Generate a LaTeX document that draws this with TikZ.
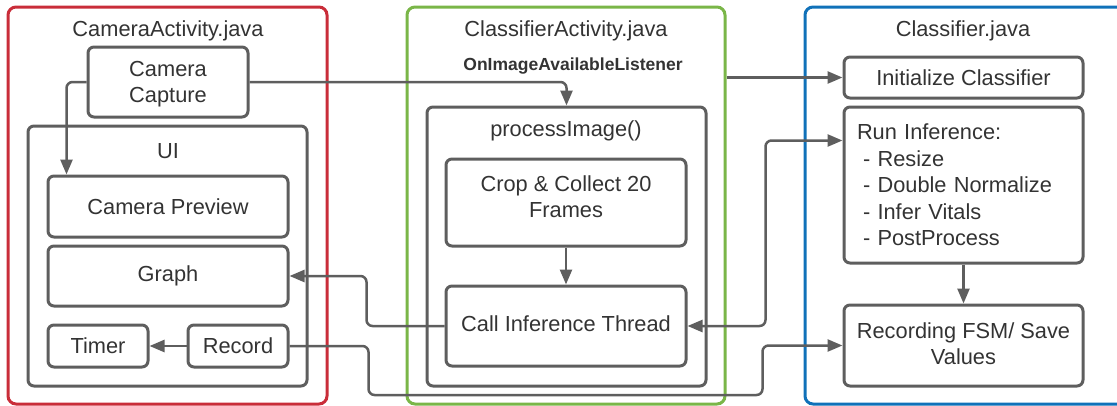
\documentclass[tikz,border=0pt]{standalone}
\usepackage{fontspec}
\setmainfont{Liberation Sans}
\usetikzlibrary{arrows.meta,calc}
\definecolor{lineg}{HTML}{5E5E5E}
\definecolor{txtg}{HTML}{333333}
\definecolor{cred}{HTML}{C92D39}
\definecolor{cgreen}{HTML}{7AB648}
\definecolor{cblue}{HTML}{1071B9}
\begin{document}
\begin{tikzpicture}[x=1pt,y=-1pt,
  font=\fontsize{21.8}{26.5}\selectfont,
  every node/.style={text=txtg},
  container/.style={draw=#1,line width=3pt,rounded corners=8pt,inner sep=0pt},
  box/.style={draw=lineg,line width=3pt,rounded corners=6pt,inner sep=0pt,align=center},
  lbl/.style={inner sep=0pt},
  conn/.style={draw=lineg,line width=2.5pt,rounded corners=6pt,-{Triangle[length=15pt,width=12pt]}},
  biconn/.style={draw=lineg,line width=2.5pt,rounded corners=6pt,{Triangle[length=15pt,width=12pt]}-{Triangle[length=15pt,width=12pt]}}
]
\useasboundingbox (0,0) rectangle (1117,405);
\begin{scope}
\clip (0,0) rectangle (1117,405);
% containers
\node[container=cred,minimum width=319pt,minimum height=397pt] (camact) at (167.5,205.5) {};
\node[container=cgreen,minimum width=318pt,minimum height=397pt] (clsact) at (566,205.5) {};
\node[container=cblue,minimum width=325pt,minimum height=397pt] (cls) at (967.5,205.5) {};
\end{scope}
\node[lbl] (t1) at (168,31) {CameraActivity.java};
\node[lbl] (t2) at (566,31) {ClassifierActivity.java};
\node[lbl] (t3) at (963,31) {Classifier.java};
\node[lbl,font=\fontsize{17.5}{20}\selectfont\bfseries] (listener) at (573,66) {OnImageAvailableListener};

% CameraActivity
\node[box,minimum width=160pt,minimum height=70pt,label={[lbl,align=center,yshift=-2pt]center:Camera\\Capture}] (cc) at (168,82) {};
\node[box,minimum width=279pt,minimum height=260pt] (ui) at (167.5,256) {};
\node[lbl] (uil) at (168,151) {UI};
\node[box,minimum width=240pt,minimum height=61pt] (cp) at (168,206.5) {Camera Preview};
\node[box,minimum width=240pt,minimum height=60pt] (graph) at (168,276) {Graph};
\node[box,minimum width=100pt,minimum height=42pt] (timer) at (98,346) {Timer};
\node[box,minimum width=100pt,minimum height=42pt] (record) at (238,346) {Record};

% ClassifierActivity
\node[box,minimum width=279pt,minimum height=279pt] (pi) at (566.5,246.5) {};
\node[lbl] (pil) at (566,131) {processImage()};
\node[box,minimum width=240pt,minimum height=87pt,label={[lbl,align=center,yshift=6pt]center:Crop \& Collect 20\\Frames}] (crop) at (566,202.5) {};
\node[box,minimum width=240pt,minimum height=80pt,label={[lbl,yshift=2pt]center:Call Inference Thread}] (call) at (566,326) {};

% Classifier
\node[box,minimum width=239pt,minimum height=41pt] (init) at (963.5,77.5) {Initialize Classifier};
\node[box,minimum width=239pt,minimum height=156pt,align=left,text width=213pt] (run) at (963.5,185)
  {Run Inference:\\\hspace*{6pt}- Resize\\\hspace*{6pt}- Double Normalize\\\hspace*{6pt}- Infer Vitals\\\hspace*{6pt}- PostProcess};
\node[box,minimum width=239pt,minimum height=81pt,label={[lbl,align=center,yshift=2pt]center:Recording FSM/ Save\\Values}] (rec) at (963.5,345.5) {};

% connectors
\draw[conn] (cc.west) -| ($(cp.north west)+(20,0)$);
\draw[conn] (cc.east) -| (pi.north);
\draw[conn] (crop.south) -- (call.north);
\draw[conn] (call.west) -- ++(-78,0) |- (graph.east);
\draw[biconn] (call.east) -- ++(78,0) |- ($(run.north west)+(0,35)$);
\draw[conn] (clsact.east |- init.west) -- (init.west);
\draw[conn] (record.east) -- ++(79,0) -- ++(0,49) -| ($(rec.west)+(-80,0)$) -- (rec.west);
\draw[conn] (record.west) -- (timer.east);
\draw[conn] (run.south) -- (rec.north);
\end{tikzpicture}
\end{document}
